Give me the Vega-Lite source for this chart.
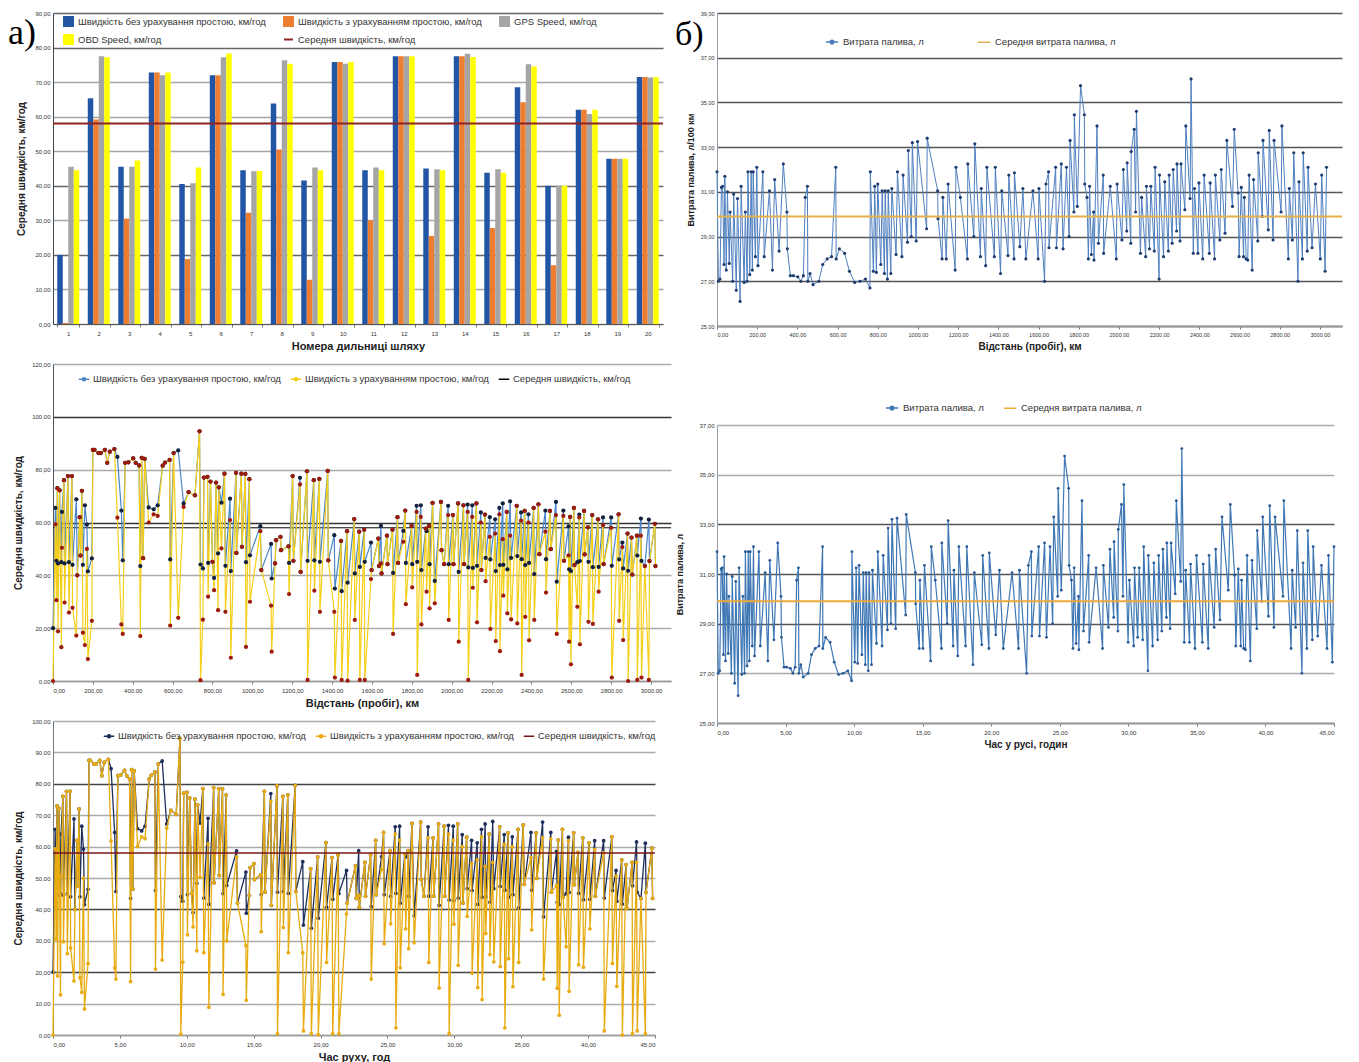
{
"$schema": "https://vega.github.io/schema/vega-lite/v6.json",
"padding": {"left": 8, "top": 10, "right": 0, "bottom": 0},
"config": {
  "locale": {"number": {"decimal": ",", "thousands": "", "grouping": [3], "currency": ["", ""]}},
  "font": "Liberation Sans",
  "view": {"stroke": null},
  "axis": {"labelFontSize": 6, "labelColor": "#333", "titleFontWeight": "bold", "titleColor": "#222", "domainColor": "#777", "tickColor": "#777", "gridWidth": 1.5, "labelPadding": 3, "tickCount": 60},
  "axisY": {"ticks": false, "titleFontSize": 10, "titlePadding": 8},
  "axisX": {"titleFontSize": 11, "tickSize": 3, "titlePadding": 4, "labelAngle": 0},
  "legend": {"labelFontSize": 9, "labelColor": "#333", "labelLimit": 500, "title": null}
},
"resolve": {"scale": {"color": "independent"}},
"datasets": {
"bars": [
{"n":1,"a":20,"b":0.3,"g":45.5,"o":44.5},
{"n":2,"a":65.3,"b":59.2,"g":77.5,"o":77.2},
{"n":3,"a":45.5,"b":30.5,"g":45.5,"o":47.3},
{"n":4,"a":72.8,"b":72.8,"g":72,"o":72.8},
{"n":5,"a":40.5,"b":18.8,"g":40.7,"o":45.3},
{"n":6,"a":72,"b":72,"g":77.2,"o":78.3},
{"n":7,"a":44.5,"b":32.2,"g":44.2,"o":44.3},
{"n":8,"a":63.8,"b":50.5,"g":76.3,"o":75.3},
{"n":9,"a":41.5,"b":12.8,"g":45.3,"o":44.5},
{"n":10,"a":75.8,"b":75.8,"g":75.3,"o":75.8},
{"n":11,"a":44.5,"b":30,"g":45.3,"o":44.5},
{"n":12,"a":77.5,"b":77.5,"g":77.5,"o":77.5},
{"n":13,"a":45,"b":25.5,"g":44.8,"o":44.5},
{"n":14,"a":77.5,"b":77.5,"g":78.2,"o":77.3},
{"n":15,"a":43.8,"b":27.8,"g":44.8,"o":43.8},
{"n":16,"a":68.5,"b":64.2,"g":75.2,"o":74.5},
{"n":17,"a":40,"b":17,"g":40,"o":40},
{"n":18,"a":62,"b":62,"g":60.8,"o":62},
{"n":19,"a":47.8,"b":47.8,"g":47.8,"o":47.8},
{"n":20,"a":71.5,"b":71.5,"g":71.3,"o":71.5}
],
"fuel": [
{"d":0,"t":0,"f":31.9},{"d":7,"t":0.09,"f":27.0},{"d":15,"t":0.2,"f":27.1},{"d":22,"t":0.3,"f":31.2},{"d":28,"t":0.38,"f":31.25},{"d":35,"t":0.47,"f":27.75},{"d":39,"t":0.52,"f":31.7},{"d":46,"t":0.62,"f":27.5},{"d":52,"t":0.7,"f":31.0},{"d":61,"t":0.82,"f":27.8},{"d":65,"t":0.87,"f":30.1},{"d":78,"t":1.05,"f":27.0},{"d":83,"t":1.11,"f":30.9},{"d":96,"t":1.29,"f":26.6},{"d":102,"t":1.37,"f":30.7},{"d":115,"t":1.54,"f":26.1},{"d":120,"t":1.61,"f":31.25},{"d":135,"t":1.81,"f":26.95},{"d":141,"t":1.89,"f":30.1},{"d":150,"t":2.01,"f":27.0},{"d":154,"t":2.07,"f":31.9},{"d":163,"t":2.19,"f":27.3},{"d":170,"t":2.28,"f":31.9},{"d":176,"t":2.36,"f":27.5},{"d":180,"t":2.42,"f":31.9},{"d":191,"t":2.57,"f":28.1},{"d":198,"t":2.66,"f":32.1},{"d":204,"t":2.74,"f":27.7},{"d":228,"t":3.06,"f":31.9},{"d":235,"t":3.16,"f":28.1},{"d":261,"t":3.51,"f":31.05},{"d":276,"t":3.71,"f":27.5},{"d":287,"t":3.85,"f":31.55},{"d":309,"t":4.15,"f":28.35},{"d":330,"t":4.43,"f":32.25},{"d":348,"t":4.67,"f":30.1},{"d":350,"t":4.7,"f":28.45},
{"d":365,"t":4.89,"f":27.25},{"d":380,"t":5.07,"f":27.25},{"d":402,"t":5.35,"f":27.2},{"d":417,"t":5.53,"f":27.0},{"d":430,"t":5.7,"f":27.25},{"d":439,"t":5.81,"f":30.75},{"d":450,"t":5.94,"f":31.25},{"d":452,"t":5.97,"f":27.0},{"d":463,"t":6.11,"f":27.35},{"d":478,"t":6.29,"f":26.85},{"d":507,"t":6.65,"f":27.0},{"d":526,"t":6.89,"f":27.75},{"d":548,"t":7.16,"f":28.0},{"d":570,"t":7.44,"f":28.1},{"d":591,"t":7.7,"f":32.1},{"d":593,"t":7.72,"f":28.0},{"d":609,"t":7.92,"f":28.45},{"d":635,"t":8.25,"f":28.25},{"d":659,"t":8.55,"f":27.45},{"d":685,"t":8.87,"f":26.95},{"d":711,"t":9.19,"f":27.0},{"d":739,"t":9.54,"f":27.1},{"d":761,"t":9.82,"f":26.7},{"d":763,"t":9.84,"f":31.9},
{"d":778,"t":10.05,"f":27.45},{"d":785,"t":10.15,"f":31.25},{"d":793,"t":10.26,"f":27.4},{"d":800,"t":10.36,"f":31.35},{"d":815,"t":10.57,"f":27.75},{"d":822,"t":10.67,"f":31.05},{"d":833,"t":10.82,"f":27.35},{"d":837,"t":10.88,"f":31.05},{"d":848,"t":11.03,"f":27.1},{"d":852,"t":11.09,"f":31.05},{"d":865,"t":11.27,"f":27.35},{"d":870,"t":11.34,"f":31.15},{"d":891,"t":11.63,"f":28.2},{"d":898,"t":11.73,"f":31.9},{"d":920,"t":12.04,"f":28.1},{"d":926,"t":12.12,"f":31.75},{"d":948,"t":12.43,"f":28.75},{"d":952,"t":12.48,"f":32.85},{"d":967,"t":12.69,"f":29.0},{"d":972,"t":12.76,"f":33.2},{"d":991,"t":13.03,"f":28.8},{"d":998,"t":13.13,"f":33.25},{"d":1043,"t":13.76,"f":29.35},{"d":1046,"t":13.8,"f":33.4},
{"d":1098,"t":14.47,"f":31.05},{"d":1100,"t":14.49,"f":29.8},{"d":1120,"t":14.75,"f":28.0},{"d":1124,"t":14.8,"f":30.75},{"d":1141,"t":15.02,"f":28.0},{"d":1150,"t":15.13,"f":31.35},{"d":1185,"t":15.58,"f":27.5},{"d":1189,"t":15.63,"f":32.1},{"d":1211,"t":15.92,"f":30.75},{"d":1246,"t":16.37,"f":28.0},{"d":1248,"t":16.4,"f":32.25},{"d":1278,"t":16.79,"f":29.0},{"d":1283,"t":16.86,"f":33.15},{"d":1311,"t":17.22,"f":28.1},{"d":1315,"t":17.28,"f":31.15},{"d":1337,"t":17.56,"f":27.7},{"d":1343,"t":17.64,"f":32.1},{"d":1380,"t":18.13,"f":28.1},{"d":1385,"t":18.22,"f":32.1},{"d":1411,"t":18.67,"f":27.35},{"d":1417,"t":18.77,"f":31.05},{"d":1448,"t":19.31,"f":28.15},{"d":1452,"t":19.38,"f":31.75},{"d":1478,"t":19.83,"f":28.0},{"d":1480,"t":19.86,"f":31.85},{"d":1507,"t":20.33,"f":28.55},{"d":1522,"t":20.6,"f":31.15},{"d":1537,"t":20.88,"f":28.0},{"d":1572,"t":21.52,"f":31.05},{"d":1598,"t":21.99,"f":28.0},{"d":1602,"t":22.06,"f":31.15},{"d":1630,"t":22.58,"f":27.0},{"d":1637,"t":22.71,"f":31.35},{"d":1650,"t":22.93,"f":31.9},{"d":1652,"t":22.96,"f":28.5},{"d":1685,"t":23.46,"f":32.1},{"d":1689,"t":23.52,"f":28.5},{"d":1713,"t":23.89,"f":32.25},{"d":1722,"t":24.03,"f":28.45},{"d":1739,"t":24.29,"f":32.1},{"d":1752,"t":24.48,"f":29.0},{"d":1757,"t":24.56,"f":33.3},{"d":1776,"t":24.85,"f":30.1},{"d":1778,"t":24.88,"f":34.45},{"d":1793,"t":25.11,"f":30.35},{"d":1809,"t":25.35,"f":35.75},
{"d":1828,"t":25.65,"f":34.45},{"d":1830,"t":25.68,"f":31.35},{"d":1841,"t":25.85,"f":30.75},{"d":1848,"t":25.96,"f":28.0},{"d":1854,"t":26.05,"f":31.25},{"d":1863,"t":26.19,"f":28.2},{"d":1874,"t":26.36,"f":30.1},{"d":1876,"t":26.39,"f":27.95},{"d":1891,"t":26.62,"f":33.95},{"d":1898,"t":26.73,"f":28.7},{"d":1922,"t":27.11,"f":31.75},{"d":1924,"t":27.14,"f":28.25},{"d":1957,"t":27.65,"f":31.25},{"d":1987,"t":28.12,"f":28.0},{"d":1991,"t":28.18,"f":31.35},{"d":2015,"t":28.55,"f":28.85},{"d":2022,"t":28.66,"f":32.0},{"d":2039,"t":28.93,"f":29.25},{"d":2041,"t":28.96,"f":32.3},{"d":2059,"t":29.24,"f":28.7},{"d":2061,"t":29.27,"f":32.8},{"d":2076,"t":29.5,"f":33.8},{"d":2083,"t":29.61,"f":30.1},{"d":2087,"t":29.67,"f":34.6},{"d":2107,"t":29.98,"f":28.25},{"d":2113,"t":30.08,"f":30.75},{"d":2133,"t":30.39,"f":28.1},{"d":2137,"t":30.45,"f":31.25},{"d":2152,"t":30.68,"f":28.45},{"d":2159,"t":30.79,"f":31.25},{"d":2176,"t":31.05,"f":28.35},{"d":2180,"t":31.12,"f":32.1},{"d":2200,"t":31.43,"f":27.1},{"d":2202,"t":31.46,"f":31.75},{"d":2222,"t":31.77,"f":28.1},{"d":2228,"t":31.86,"f":31.45},{"d":2246,"t":32.14,"f":28.35},{"d":2250,"t":32.21,"f":31.75},{"d":2265,"t":32.44,"f":28.7},{"d":2270,"t":32.52,"f":32.0},{"d":2287,"t":32.78,"f":29.25},{"d":2289,"t":32.81,"f":32.25},{"d":2304,"t":33.05,"f":28.8},{"d":2309,"t":33.12,"f":32.25},{"d":2328,"t":33.42,"f":30.2},{"d":2333,"t":33.5,"f":33.95},{"d":2354,"t":33.82,"f":30.7},{"d":2359,"t":33.9,"f":36.05},
{"d":2370,"t":34.08,"f":28.25},{"d":2376,"t":34.18,"f":31.15},{"d":2393,"t":34.46,"f":28.25},{"d":2398,"t":34.54,"f":31.4},{"d":2417,"t":34.86,"f":28.0},{"d":2424,"t":34.97,"f":31.75},{"d":2450,"t":35.4,"f":28.25},{"d":2454,"t":35.46,"f":31.4},{"d":2476,"t":35.83,"f":28.0},{"d":2480,"t":35.89,"f":31.75},{"d":2502,"t":36.26,"f":28.85},{"d":2509,"t":36.37,"f":32.0},{"d":2528,"t":36.68,"f":29.15},{"d":2537,"t":36.83,"f":33.3},{"d":2565,"t":37.29,"f":30.35},{"d":2574,"t":37.44,"f":33.8},{"d":2593,"t":37.75,"f":30.95},{"d":2598,"t":37.84,"f":28.1},{"d":2609,"t":38.02,"f":31.2},{"d":2620,"t":38.2,"f":28.1},{"d":2624,"t":38.26,"f":30.75},{"d":2633,"t":38.41,"f":28.0},{"d":2641,"t":38.54,"f":27.95},{"d":2648,"t":38.66,"f":31.75},{"d":2663,"t":38.9,"f":27.5},{"d":2670,"t":39.02,"f":31.55},{"d":2691,"t":39.37,"f":28.8},{"d":2693,"t":39.4,"f":32.75},{"d":2713,"t":39.73,"f":29.9},{"d":2717,"t":39.8,"f":33.3},{"d":2743,"t":40.22,"f":29.3},{"d":2748,"t":40.31,"f":33.75},{"d":2767,"t":40.62,"f":28.85},{"d":2772,"t":40.7,"f":33.3},{"d":2807,"t":41.28,"f":30.1},{"d":2811,"t":41.34,"f":33.95},{"d":2843,"t":41.87,"f":28.0},{"d":2848,"t":41.95,"f":31.15},{"d":2863,"t":42.2,"f":28.85},{"d":2870,"t":42.32,"f":32.75},{"d":2891,"t":42.66,"f":27.0},{"d":2896,"t":42.74,"f":31.45},{"d":2913,"t":43.02,"f":28.0},{"d":2917,"t":43.09,"f":32.75},{"d":2937,"t":43.42,"f":28.35},{"d":2941,"t":43.48,"f":32.1},{"d":2961,"t":43.81,"f":28.5},{"d":2978,"t":44.09,"f":31.35},{"d":3002,"t":44.49,"f":28.0},{"d":3009,"t":44.6,"f":31.75},{"d":3026,"t":44.88,"f":27.45},{"d":3033,"t":45.0,"f":32.1}
],
"speed": [
{"d":0,"t":0,"a":20,"b":0},{"d":12,"t":0.16,"a":65.5,"b":59.3},{"d":17,"t":0.23,"a":45.5,"b":30.6},{"d":22,"t":0.3,"a":73,"b":73},{"d":25,"t":0.34,"a":44.5,"b":18.8},{"d":33,"t":0.44,"a":72.2,"b":72.2},{"d":42,"t":0.56,"a":45,"b":12.8},{"d":45,"t":0.6,"a":64,"b":50.4},{"d":55,"t":0.74,"a":76,"b":76},{"d":58,"t":0.78,"a":44.5,"b":29.7},{"d":75,"t":1.01,"a":77.6,"b":77.6},{"d":80,"t":1.07,"a":45,"b":25.9},{"d":95,"t":1.28,"a":77.6,"b":77.6},{"d":98,"t":1.32,"a":44,"b":27.7},{"d":117,"t":1.57,"a":68.8,"b":17.2},{"d":122,"t":1.64,"a":40,"b":40},{"d":134,"t":1.8,"a":62,"b":62},{"d":138,"t":1.85,"a":47.5,"b":47.5},{"d":145,"t":1.95,"a":72,"b":72},{"d":150,"t":2.01,"a":44,"b":18.3},{"d":160,"t":2.15,"a":66.5,"b":13.6},{"d":170,"t":2.28,"a":59.2,"b":50},{"d":175,"t":2.35,"a":41.5,"b":8.3},{"d":195,"t":2.62,"a":46.4,"b":22.8},{"d":200,"t":2.69,"a":87.5,"b":87.5},{"d":208,"t":2.79,"a":87.5,"b":87.5},{"d":228,"t":3.06,"a":86.3,"b":86.3},{"d":240,"t":3.22,"a":86.3,"b":86.3},{"d":260,"t":3.49,"a":87.5,"b":87.5},{"d":272,"t":3.65,"a":82.6,"b":82.6},{"d":285,"t":3.83,"a":86.8,"b":86.8},{"d":308,"t":4.14,"a":87.8,"b":87.8},{"d":323,"t":4.34,"a":84.8,"b":61.8},{"d":343,"t":4.61,"a":64.5,"b":21.4},{"d":350,"t":4.7,"a":45.7,"b":17.8},
{"d":362,"t":4.85,"a":82.6,"b":82.6},{"d":378,"t":5.05,"a":82.8,"b":82.8},{"d":402,"t":5.35,"a":84.3,"b":84.3},{"d":415,"t":5.51,"a":82.6,"b":82.6},{"d":432,"t":5.72,"a":81.6,"b":81.6},{"d":438,"t":5.8,"a":43.5,"b":17.0},{"d":445,"t":5.88,"a":84.5,"b":84.5},{"d":452,"t":5.97,"a":46.5,"b":46.5},{"d":460,"t":6.07,"a":84.1,"b":84.1},{"d":480,"t":6.32,"a":65.7,"b":60},{"d":505,"t":6.63,"a":65,"b":63.1},{"d":525,"t":6.88,"a":66.5,"b":62.5},{"d":550,"t":7.19,"a":81.5,"b":81.5},{"d":562,"t":7.34,"a":82.7,"b":82.7},{"d":585,"t":7.62,"a":83.7,"b":83.7},{"d":588,"t":7.66,"a":46,"b":21},{"d":605,"t":7.87,"a":86.3,"b":86.3},{"d":628,"t":8.16,"a":87.3,"b":23.9},{"d":655,"t":8.5,"a":67.2,"b":65.9},{"d":680,"t":8.81,"a":71.5,"b":71.5},{"d":712,"t":9.21,"a":70.3,"b":70.3},{"d":735,"t":9.49,"a":94.5,"b":94.5},{"d":740,"t":9.55,"a":44.1,"b":0.3},{"d":752,"t":9.7,"a":42.6,"b":23.2},{"d":757,"t":9.77,"a":77,"b":77},
{"d":775,"t":10.01,"a":77.3,"b":77.3},{"d":778,"t":10.05,"a":44.7,"b":31.9},{"d":790,"t":10.22,"a":75.5,"b":75.5},{"d":800,"t":10.36,"a":45.1,"b":45.1},{"d":808,"t":10.47,"a":39,"b":34.4},{"d":818,"t":10.61,"a":75.1,"b":75.1},{"d":828,"t":10.75,"a":48.3,"b":26.8},{"d":832,"t":10.81,"a":73.3,"b":73.3},{"d":845,"t":10.99,"a":67.5,"b":50.2},{"d":860,"t":11.2,"a":78.5,"b":78.5},{"d":865,"t":11.27,"a":43.6,"b":26.2},{"d":888,"t":11.59,"a":69,"b":60.9},{"d":892,"t":11.65,"a":41.6,"b":8.8},{"d":918,"t":12.01,"a":78.8,"b":78.8},{"d":920,"t":12.04,"a":48.5,"b":48.5},{"d":945,"t":12.39,"a":78.5,"b":78.5},{"d":948,"t":12.43,"a":50.8,"b":50.8},{"d":965,"t":12.67,"a":78.4,"b":78.4},{"d":968,"t":12.71,"a":45,"b":12.9},{"d":985,"t":12.95,"a":76.4,"b":76.4},{"d":988,"t":12.99,"a":47.6,"b":30},{"d":1040,"t":13.72,"a":58.6,"b":56.7},{"d":1045,"t":13.79,"a":42,"b":42},
{"d":1094,"t":14.42,"a":51.9,"b":28.5},{"d":1097,"t":14.45,"a":38.8,"b":11.1},{"d":1114,"t":14.67,"a":44.5,"b":44.5},{"d":1119,"t":14.74,"a":53.3,"b":53.3},{"d":1141,"t":15.02,"a":54.6,"b":54.6},{"d":1144,"t":15.06,"a":49.5,"b":49.5},{"d":1181,"t":15.53,"a":51,"b":51},{"d":1184,"t":15.57,"a":44.7,"b":32.9},{"d":1202,"t":15.8,"a":77.6,"b":77.6},{"d":1206,"t":15.85,"a":45.5,"b":45.5},{"d":1239,"t":16.28,"a":76.9,"b":74.4},{"d":1242,"t":16.32,"a":41.3,"b":41.3},{"d":1274,"t":16.74,"a":79.4,"b":79.4},{"d":1277,"t":16.78,"a":45.5,"b":0.4},{"d":1308,"t":17.18,"a":76,"b":76},{"d":1311,"t":17.22,"a":45.7,"b":34.2},{"d":1336,"t":17.55,"a":76.5,"b":76.5},{"d":1339,"t":17.59,"a":45.1,"b":26.2},{"d":1378,"t":18.1,"a":79.5,"b":79.5},{"d":1381,"t":18.15,"a":45.7,"b":45.7},{"d":1411,"t":18.67,"a":55.2,"b":26.2},{"d":1414,"t":18.72,"a":35,"b":1.3},{"d":1445,"t":19.26,"a":53,"b":53},{"d":1448,"t":19.31,"a":34,"b":0.4},{"d":1475,"t":19.78,"a":56.7,"b":56.7},{"d":1478,"t":19.83,"a":37.2,"b":0.1},{"d":1511,"t":20.4,"a":61.3,"b":61.3},{"d":1514,"t":20.45,"a":40.7,"b":23.1},{"d":1536,"t":20.86,"a":56.5,"b":56.5},{"d":1539,"t":20.91,"a":43.2,"b":0.4},{"d":1561,"t":21.31,"a":57.3,"b":57.3},{"d":1564,"t":21.37,"a":45.1,"b":0.4},{"d":1595,"t":21.94,"a":52.4,"b":38.6},{"d":1598,"t":21.99,"a":42,"b":42},{"d":1632,"t":22.61,"a":53.9,"b":53.9},{"d":1635,"t":22.67,"a":43.5,"b":43.5},{"d":1645,"t":22.85,"a":58.7,"b":44.5},{"d":1648,"t":22.9,"a":40.7,"b":40.7},{"d":1675,"t":23.31,"a":55,"b":55},{"d":1678,"t":23.36,"a":44.2,"b":44.2},{"d":1703,"t":23.74,"a":57.3,"b":57.3},{"d":1706,"t":23.79,"a":40.9,"b":17.8},{"d":1728,"t":24.12,"a":62,"b":62},{"d":1731,"t":24.17,"a":44.7,"b":44.7},{"d":1757,"t":24.56,"a":56.8,"b":52.7},{"d":1767,"t":24.71,"a":64.5,"b":64.5},{"d":1770,"t":24.76,"a":44.7,"b":29.1},{"d":1799,"t":25.2,"a":58.7,"b":58.7},{"d":1802,"t":25.24,"a":44.2,"b":35.4},
{"d":1824,"t":25.58,"a":66.3,"b":64},{"d":1827,"t":25.63,"a":45.1,"b":2.3},{"d":1845,"t":25.91,"a":66.5,"b":62.1},{"d":1848,"t":25.96,"a":42,"b":21.4},{"d":1870,"t":26.3,"a":57.7,"b":57.7},{"d":1874,"t":26.36,"a":56.7,"b":33.8},{"d":1886,"t":26.55,"a":58.7,"b":58.7},{"d":1889,"t":26.59,"a":44.2,"b":27.5},{"d":1904,"t":26.83,"a":67.4,"b":67.4},{"d":1915,"t":27.0,"a":37.9,"b":29.4},{"d":1946,"t":27.48,"a":67.8,"b":67.8},{"d":1949,"t":27.53,"a":49.5,"b":49.5},{"d":1962,"t":27.73,"a":44.2,"b":44.2},{"d":1982,"t":28.04,"a":66.3,"b":62.8},{"d":1985,"t":28.09,"a":44.2,"b":23.1},{"d":2006,"t":28.41,"a":62.8,"b":62.8},{"d":2009,"t":28.46,"a":44.2,"b":44.2},{"d":2032,"t":28.82,"a":67.2,"b":67.2},{"d":2035,"t":28.86,"a":41.3,"b":14.9},{"d":2059,"t":29.24,"a":66.5,"b":66.5},{"d":2062,"t":29.28,"a":44.2,"b":44.2},{"d":2080,"t":29.56,"a":66.8,"b":64},{"d":2083,"t":29.61,"a":43,"b":0.4},{"d":2103,"t":29.92,"a":66.5,"b":62.1},{"d":2106,"t":29.97,"a":42.8,"b":35.3},{"d":2124,"t":30.25,"a":67.2,"b":67.2},{"d":2127,"t":30.29,"a":43.6,"b":22.2},{"d":2146,"t":30.59,"a":63.8,"b":60},{"d":2149,"t":30.64,"a":42,"b":42},{"d":2167,"t":30.92,"a":63,"b":63},{"d":2170,"t":30.96,"a":46.6,"b":37.8},{"d":2191,"t":31.29,"a":62,"b":54.6},{"d":2194,"t":31.33,"a":46,"b":19.7},{"d":2218,"t":31.71,"a":61.2,"b":55.8},{"d":2221,"t":31.75,"a":41.6,"b":15.1},{"d":2239,"t":32.03,"a":65.5,"b":63.1},{"d":2242,"t":32.08,"a":43.9,"b":11.3},{"d":2256,"t":32.3,"a":67.2,"b":53.7},{"d":2259,"t":32.35,"a":44,"b":32.3},{"d":2276,"t":32.61,"a":64,"b":64},{"d":2279,"t":32.66,"a":42.3,"b":25.6},{"d":2293,"t":32.87,"a":68,"b":55},{"d":2298,"t":32.95,"a":46.6,"b":23.3},{"d":2326,"t":33.39,"a":66.3,"b":66.3},{"d":2329,"t":33.43,"a":47.3,"b":21.8},{"d":2348,"t":33.73,"a":63.8,"b":60.7},{"d":2351,"t":33.78,"a":46.1,"b":2.3},
{"d":2366,"t":34.02,"a":64.4,"b":64.4},{"d":2369,"t":34.06,"a":43.9,"b":24.3},{"d":2385,"t":34.33,"a":63.1,"b":60},{"d":2388,"t":34.38,"a":44.7,"b":15.4},{"d":2411,"t":34.76,"a":65.5,"b":65.5},{"d":2414,"t":34.81,"a":40.5,"b":23.1},{"d":2435,"t":35.15,"a":66.9,"b":66.9},{"d":2440,"t":35.23,"a":48,"b":48},{"d":2470,"t":35.73,"a":64.5,"b":56.5},{"d":2473,"t":35.78,"a":46.1,"b":33.5},{"d":2493,"t":36.11,"a":64.4,"b":64.4},{"d":2497,"t":36.17,"a":49.9,"b":49.9},{"d":2523,"t":36.6,"a":67.8,"b":62.8},{"d":2527,"t":36.67,"a":37.6,"b":17.8},{"d":2560,"t":37.21,"a":64.5,"b":62.5},{"d":2563,"t":37.26,"a":45.5,"b":45.5},{"d":2586,"t":37.64,"a":58.5,"b":47.6},{"d":2589,"t":37.69,"a":42.3,"b":14.9},{"d":2594,"t":37.77,"a":62.1,"b":62.1},{"d":2598,"t":37.84,"a":41.6,"b":6.3},{"d":2613,"t":38.08,"a":65.5,"b":65.5},{"d":2616,"t":38.13,"a":43.9,"b":43.9},{"d":2630,"t":38.36,"a":45,"b":28.1},{"d":2640,"t":38.53,"a":63,"b":61.9},{"d":2643,"t":38.58,"a":45.4,"b":13.9},{"d":2664,"t":38.92,"a":64.4,"b":64.4},{"d":2667,"t":38.97,"a":47.9,"b":47.9},{"d":2683,"t":39.24,"a":58.2,"b":58.2},{"d":2686,"t":39.29,"a":45.1,"b":22.4},{"d":2705,"t":39.6,"a":62.8,"b":62.8},{"d":2708,"t":39.65,"a":43.1,"b":21.6},{"d":2734,"t":40.08,"a":61.2,"b":61.2},{"d":2737,"t":40.13,"a":43.2,"b":33.8},{"d":2759,"t":40.49,"a":61.9,"b":59},{"d":2762,"t":40.54,"a":44.2,"b":44.2},{"d":2800,"t":41.16,"a":61.9,"b":58},{"d":2803,"t":41.21,"a":43.6,"b":1.3},{"d":2837,"t":41.77,"a":63.1,"b":63.1},{"d":2840,"t":41.82,"a":46,"b":22.8},{"d":2856,"t":42.09,"a":52.4,"b":50.7},{"d":2860,"t":42.15,"a":42.6,"b":15.5},{"d":2882,"t":42.51,"a":55.8,"b":55.8},{"d":2885,"t":42.56,"a":41.7,"b":0},{"d":2902,"t":42.84,"a":54.3,"b":54.3},{"d":2906,"t":42.91,"a":40.3,"b":40.3},{"d":2929,"t":43.29,"a":55,"b":55},{"d":2931,"t":43.32,"a":47.5,"b":0.4},{"d":2949,"t":43.62,"a":61.5,"b":55},{"d":2952,"t":43.67,"a":45.5,"b":1.3},{"d":2969,"t":43.95,"a":43.5,"b":43.5},{"d":2989,"t":44.28,"a":61.1,"b":0.4},{"d":2992,"t":44.33,"a":45.4,"b":45.4},{"d":3019,"t":44.77,"a":59.5,"b":59.5},{"d":3022,"t":44.82,"a":43.5,"b":43.5}
]
},
"hconcat": [
{
"spacing": 10,
"resolve": {"scale": {"color": "independent"}},
"vconcat": [
{
"width": 610, "height": 311,
"layer": [
{
"data": {"name": "bars"},
"transform": [{"fold": ["a", "b", "g", "o"], "as": ["k", "v"]}],
"mark": {"type": "bar"},
"encoding": {
"x": {"field": "n", "type": "ordinal", "scale": {"paddingInner": 0.28, "paddingOuter": 0.14}, "axis": {"title": "Номера дильниці шляху", "tickBand": "extent", "domainColor": "#555", "labelFontSize": 6}},
"xOffset": {"field": "k", "type": "nominal", "scale": {"domain": ["a", "b", "g", "o"]}},
"y": {"field": "v", "type": "quantitative", "scale": {"domain": [0, 90], "nice": false}, "axis": {"title": "Середня швидкість, км/год", "format": ".2f", "values": [0, 10, 20, 30, 40, 50, 60, 70, 80, 90], "tickCount": 60, "domainColor": "#444", "gridColor": {"condition": {"test": "datum.value == 80 || datum.value == 90 || datum.value == 40 || datum.value == 20", "value": "#666"}, "value": "#a6a6a6"}}},
"color": {"field": "k", "type": "nominal", "scale": {"domain": ["a", "b", "g", "o", "m"], "range": ["#2255a4", "#ed7d31", "#a5a5a5", "#ffff00", "#8e2424"]},
"legend": {"orient": "none", "legendX": -45, "legendY": 3, "direction": "horizontal", "columns": 3, "columnPadding": 14, "rowPadding": 1, "symbolSize": 80, "labelFontSize": 9.5,
"title": "а)", "titleOrient": "left", "titleFont": "Liberation Serif", "titleFontSize": 36, "titleFontWeight": "normal", "titleColor": "#000", "titlePadding": 27, "titleBaseline": "top", "titleAnchor": "start",
"labelExpr": "datum.value == 'a' ? 'Швидкість без урахування простою, км/год' : datum.value == 'b' ? 'Швидкість з урахуванням простою, км/год' : datum.value == 'g' ? 'GPS Speed, км/год' : datum.value == 'o' ? 'OBD Speed, км/год' : 'Середня швидкість, км/год'",
"encode": {"symbols": {"update": {"shape": {"signal": "datum.value == 'm' ? 'stroke' : 'square'"}, "stroke": {"signal": "datum.value == 'm' ? '#8e2424' : 'transparent'"}, "strokeWidth": {"value": 2}}}}}
}
}
},
{
"data": {"values": [{"m": 58}]},
"mark": {"type": "rule", "strokeWidth": 2},
"encoding": {"y": {"field": "m", "type": "quantitative"}, "color": {"datum": "m", "type": "nominal"}}
}
]
},
{
"width": 618, "height": 317,
"layer": [
{
"data": {"values": [{"m": 58}]},
"mark": {"type": "rule", "strokeWidth": 1},
"encoding": {"y": {"field": "m", "type": "quantitative"}, "color": {"datum": "m", "type": "nominal"}}
},
{
"data": {"name": "speed"},
"mark": {"type": "line", "strokeWidth": 1.2},
"encoding": {
"x": {"field": "d", "type": "quantitative", "scale": {"domain": [0, 3100], "nice": false}, "axis": {"title": "Відстань (пробіг), км", "format": ".2f", "values": [0, 200, 400, 600, 800, 1000, 1200, 1400, 1600, 1800, 2000, 2200, 2400, 2600, 2800, 3000], "tickCount": 60, "grid": false, "domainColor": "#999", "domainWidth": 1.5}},
"y": {"field": "a", "type": "quantitative", "scale": {"domain": [0, 120], "nice": false}, "axis": {"title": "Середня швидкість, км/год", "format": ".2f", "values": [0, 20, 40, 60, 80, 100, 120], "tickCount": 60, "domainColor": "#555", "gridColor": {"condition": {"test": "datum.value == 60 || datum.value == 100", "value": "#333"}, "value": "#aaaaaa"}}},
"color": {"datum": "a", "type": "nominal", "scale": {"domain": ["a", "b", "m"], "range": ["#4a86c8", "#f5cf1a", "#000000"]},
"legend": {"orient": "none", "legendX": 25, "legendY": 9, "direction": "horizontal", "columnPadding": 6, "symbolSize": 110, "labelOffset": 3, "labelFontSize": 9.5,
"labelExpr": "datum.value == 'a' ? 'Швидкість без урахування простою, км/год' : datum.value == 'b' ? 'Швидкість з урахуванням простою, км/год' : 'Середня швидкість, км/год'",
"encode": {"symbols": {"update": {"shape": {"signal": "datum.value == 'm' ? 'stroke' : 'M-1,0L1,0M-0.3,0A0.3,0.3,0,1,1,0.3,0A0.3,0.3,0,1,1,-0.3,0Z'"}, "fill": {"signal": "datum.value == 'a' ? '#14213d' : datum.value == 'b' ? '#9c1b0b' : 'transparent'"}, "stroke": {"signal": "datum.value == 'a' ? '#4a86c8' : datum.value == 'b' ? '#f5cf1a' : '#000000'"}, "strokeWidth": {"value": 1.5}, "opacity": {"value": 1}}}}}
}
}
},
{
"data": {"name": "speed"},
"mark": {"type": "line", "strokeWidth": 1.2},
"encoding": {"x": {"field": "d", "type": "quantitative"}, "y": {"field": "b", "type": "quantitative"}, "color": {"datum": "b", "type": "nominal"}}
},
{
"data": {"name": "speed"},
"mark": {"type": "circle", "size": 18, "opacity": 1, "color": "#14213d"},
"encoding": {"x": {"field": "d", "type": "quantitative"}, "y": {"field": "a", "type": "quantitative"}}
},
{
"data": {"name": "speed"},
"mark": {"type": "circle", "size": 18, "opacity": 1, "color": "#9c1b0b"},
"encoding": {"x": {"field": "d", "type": "quantitative"}, "y": {"field": "b", "type": "quantitative"}}
}
]
},
{
"width": 602, "height": 314,
"layer": [
{
"data": {"name": "speed"},
"mark": {"type": "line", "strokeWidth": 1.3},
"encoding": {
"x": {"field": "t", "type": "quantitative", "scale": {"domain": [0, 45], "nice": false}, "axis": {"title": "Час руху, год", "format": ".2f", "values": [0, 5, 10, 15, 20, 25, 30, 35, 40, 45], "tickCount": 60, "grid": false, "domainColor": "#999", "domainWidth": 1.5}},
"y": {"field": "a", "type": "quantitative", "scale": {"domain": [0, 100], "nice": false}, "axis": {"title": "Середня швидкість, км/год", "format": ".2f", "values": [0, 10, 20, 30, 40, 50, 60, 70, 80, 90, 100], "tickCount": 60, "domainColor": "#777", "gridColor": {"condition": {"test": "datum.value == 80 || datum.value == 40 || datum.value == 20", "value": "#444"}, "value": "#aaaaaa"}}},
"color": {"datum": "a", "type": "nominal", "scale": {"domain": ["a", "b", "m"], "range": ["#1f2f5c", "#e8ac12", "#7b1414"]},
"legend": {"orient": "none", "legendX": 50, "legendY": 9, "direction": "horizontal", "columnPadding": 6, "symbolSize": 110, "labelOffset": 3, "labelFontSize": 9.5,
"labelExpr": "datum.value == 'a' ? 'Швидкість без урахування простою, км/год' : datum.value == 'b' ? 'Швидкість з урахуванням простою, км/год' : 'Середня швидкість, км/год'",
"encode": {"symbols": {"update": {"shape": {"signal": "datum.value == 'm' ? 'stroke' : 'M-1,0L1,0M-0.3,0A0.3,0.3,0,1,1,0.3,0A0.3,0.3,0,1,1,-0.3,0Z'"}, "fill": {"signal": "datum.value == 'a' ? '#1f2f5c' : datum.value == 'b' ? '#e8ac12' : 'transparent'"}, "stroke": {"signal": "datum.value == 'a' ? '#1f2f5c' : datum.value == 'b' ? '#e8ac12' : '#7b1414'"}, "strokeWidth": {"value": 1.5}, "opacity": {"value": 1}}}}}
}
}
},
{
"data": {"name": "speed"},
"mark": {"type": "circle", "size": 14, "opacity": 1, "color": "#1f2f5c"},
"encoding": {"x": {"field": "t", "type": "quantitative"}, "y": {"field": "a", "type": "quantitative"}}
},
{
"data": {"name": "speed"},
"mark": {"type": "line", "strokeWidth": 1.3},
"encoding": {"x": {"field": "t", "type": "quantitative"}, "y": {"field": "b", "type": "quantitative"}, "color": {"datum": "b", "type": "nominal"}}
},
{
"data": {"name": "speed"},
"mark": {"type": "circle", "size": 14, "opacity": 1, "color": "#e8ac12"},
"encoding": {"x": {"field": "t", "type": "quantitative"}, "y": {"field": "b", "type": "quantitative"}}
},
{
"data": {"values": [{"m": 58}]},
"mark": {"type": "rule", "strokeWidth": 1.5},
"encoding": {"y": {"field": "m", "type": "quantitative"}, "color": {"datum": "m", "type": "nominal"}}
}
]
}
]
},
{
"spacing": 49,
"resolve": {"scale": {"color": "independent"}},
"vconcat": [
{
"width": 625, "height": 313,
"layer": [
{
"data": {"name": "fuel"},
"mark": {"type": "line", "strokeWidth": 1},
"encoding": {
"x": {"field": "d", "type": "quantitative", "scale": {"domain": [0, 3110], "nice": false}, "axis": {"title": "Відстань (пробіг), км", "format": ".2f", "values": [0, 200, 400, 600, 800, 1000, 1200, 1400, 1600, 1800, 2000, 2200, 2400, 2600, 2800, 3000], "tickCount": 60, "grid": false, "domainColor": "#999", "domainWidth": 2, "labelFontSize": 5.5, "titleFontSize": 10}},
"y": {"field": "f", "type": "quantitative", "scale": {"domain": [25, 39], "nice": false}, "axis": {"title": "Витрата палива, л/100 км", "titleFontSize": 9, "titlePadding": 5, "format": ".2f", "values": [25, 27, 29, 31, 33, 35, 37, 39], "tickCount": 60, "labelFontSize": 5.5, "domainColor": "#999", "gridColor": "#555"}},
"color": {"datum": "l", "type": "nominal", "scale": {"domain": ["l", "m"], "range": ["#4f7fbf", "#e3b04b"]},
"legend": {"orient": "none", "legendX": -42, "legendY": 22, "direction": "horizontal", "columnPadding": 50, "symbolSize": 150, "labelFontSize": 9.5,
"title": "б)", "titleOrient": "left", "titleFont": "Liberation Serif", "titleFontSize": 34, "titleFontWeight": "normal", "titleColor": "#000", "titlePadding": 121, "titleBaseline": "middle", "titleAnchor": "start",
"labelExpr": "datum.value == 'l' ? 'Витрата палива, л' : 'Середня витрата палива, л'",
"encode": {"symbols": {"update": {"shape": {"signal": "datum.value == 'm' ? 'stroke' : 'M-1,0L1,0M-0.3,0A0.3,0.3,0,1,1,0.3,0A0.3,0.3,0,1,1,-0.3,0Z'"}, "fill": {"signal": "datum.value == 'l' ? '#1f3c6e' : 'transparent'"}, "stroke": {"signal": "datum.value == 'l' ? '#4f7fbf' : '#e3b04b'"}, "strokeWidth": {"value": 1.5}, "opacity": {"value": 1}}}}}
}
}
},
{
"data": {"name": "fuel"},
"mark": {"type": "circle", "size": 10, "opacity": 1, "color": "#1f3c6e"},
"encoding": {"x": {"field": "d", "type": "quantitative"}, "y": {"field": "f", "type": "quantitative"}}
},
{
"data": {"values": [{"m": 29.9}]},
"mark": {"type": "rule", "strokeWidth": 2},
"encoding": {"y": {"field": "m", "type": "quantitative"}, "color": {"datum": "m", "type": "nominal"}}
}
]
},
{
"width": 617, "height": 298,
"layer": [
{
"data": {"name": "fuel"},
"mark": {"type": "line", "strokeWidth": 1.2},
"encoding": {
"x": {"field": "t", "type": "quantitative", "scale": {"domain": [0, 45], "nice": false}, "axis": {"title": "Час у русі, годин", "format": ".2f", "values": [0, 5, 10, 15, 20, 25, 30, 35, 40, 45], "tickCount": 60, "grid": false, "domainColor": "#999", "domainWidth": 2, "titleFontSize": 10}},
"y": {"field": "f", "type": "quantitative", "scale": {"domain": [25, 37], "nice": false}, "axis": {"title": "Витрата палива, л", "titleFontSize": 9, "titlePadding": 14, "format": ".2f", "values": [25, 27, 29, 31, 33, 35, 37], "tickCount": 60, "domainColor": "#999", "gridColor": {"condition": {"test": "datum.value == 33 || datum.value == 31 || datum.value == 29", "value": "#555"}, "value": "#aaaaaa"}}},
"color": {"datum": "l", "type": "nominal", "scale": {"domain": ["l", "m"], "range": ["#3f78b5", "#eda93a"]},
"legend": {"orient": "none", "legendX": 168, "legendY": -24, "direction": "horizontal", "columnPadding": 16, "symbolSize": 150, "labelFontSize": 9.5,
"labelExpr": "datum.value == 'l' ? 'Витрата палива, л' : 'Середня витрата палива, л'",
"encode": {"symbols": {"update": {"shape": {"signal": "datum.value == 'm' ? 'stroke' : 'M-1,0L1,0M-0.3,0A0.3,0.3,0,1,1,0.3,0A0.3,0.3,0,1,1,-0.3,0Z'"}, "fill": {"signal": "datum.value == 'l' ? '#2a5a95' : 'transparent'"}, "stroke": {"signal": "datum.value == 'l' ? '#3f78b5' : '#eda93a'"}, "strokeWidth": {"value": 1.5}, "opacity": {"value": 1}}}}}
}
}
},
{
"data": {"name": "fuel"},
"mark": {"type": "circle", "size": 8, "opacity": 1, "color": "#2a5a95"},
"encoding": {"x": {"field": "t", "type": "quantitative"}, "y": {"field": "f", "type": "quantitative"}}
},
{
"data": {"values": [{"m": 29.9}]},
"mark": {"type": "rule", "strokeWidth": 2},
"encoding": {"y": {"field": "m", "type": "quantitative"}, "color": {"datum": "m", "type": "nominal"}}
}
]
}
]
}
],
"spacing": 3
}
